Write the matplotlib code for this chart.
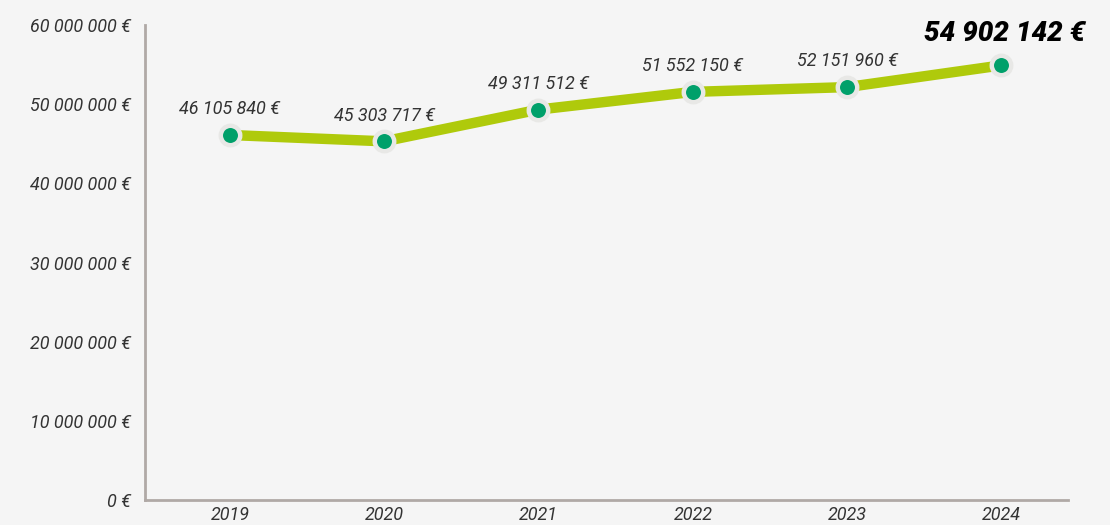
import matplotlib.pyplot as plt

years = ["2019", "2020", "2021", "2022", "2023", "2024"]
values = [46105840, 45303717, 49311512, 51552150, 52151960, 54902142]
labels = ["46 105 840 €", "45 303 717 €", "49 311 512 €",
          "51 552 150 €", "52 151 960 €", "54 902 142 €"]
yticks = [0, 10000000, 20000000, 30000000, 40000000, 50000000, 60000000]
ytick_labels = ["0 €", "10 000 000 €", "20 000 000 €", "30 000 000 €",
                "40 000 000 €", "50 000 000 €", "60 000 000 €"]

bg = "#f5f5f5"
fig = plt.figure(figsize=(11.1, 5.25), dpi=100, facecolor=bg)
ax = fig.add_axes([0.1306, 0.0476, 0.8314, 0.9048], facecolor=bg)

x = list(range(len(years)))
ax.plot(x, values, color="#afca0b", lw=7.5, solid_capstyle="butt", zorder=2)
ax.plot(x, values, ls="none", marker="o", ms=14, mfc="#00a06a",
        mec="#e8e8e6", mew=3.2, zorder=3)

for i, (v, lab) in enumerate(zip(values, labels)):
    if i == len(values) - 1:
        # highlighted last value
        ax.annotate(lab, (i, v), xytext=(2, 13), textcoords="offset points",
                    ha="center", va="bottom", fontsize=20, fontweight="heavy",
                    style="italic", family=["Roboto", "DejaVu Sans"], color="black")
    else:
        ax.annotate(lab, (i, v), xytext=(0, 12), textcoords="offset points",
                    ha="center", va="bottom", fontsize=13, style="italic",
                    family=["Roboto", "DejaVu Sans"], color="#333333")

ax.set_xlim(-0.55, 5.43)
ax.set_ylim(0, 60000000)
ax.set_xticks(x)
ax.set_xticklabels(years)
ax.set_yticks(yticks)
ax.set_yticklabels(ytick_labels)
for t in ax.get_xticklabels() + ax.get_yticklabels():
    t.set_fontstyle("italic")
    t.set_fontsize(13)
    t.set_family(["Roboto", "DejaVu Sans"])
    t.set_color("#333333")
ax.tick_params(axis="both", length=0)
ax.tick_params(axis="y", pad=10)
ax.tick_params(axis="x", pad=4)

for s in ["top", "right"]:
    ax.spines[s].set_visible(False)
for s in ["left", "bottom"]:
    ax.spines[s].set_color("#b0a9a6")
    ax.spines[s].set_linewidth(2)

fig.savefig("out.png", dpi=100, facecolor=bg)
